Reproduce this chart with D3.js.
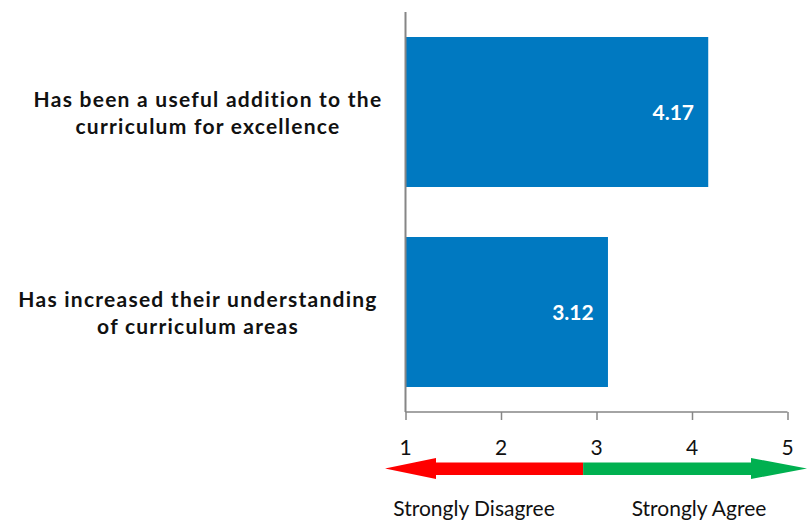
<!DOCTYPE html>
<html><head><meta charset="utf-8">
<script src="https://cdn.jsdelivr.net/npm/d3@7"></script>
<style>body{margin:0;background:#fff}svg{display:block}</style>
</head><body><svg id="c" width="807" height="521"></svg>
<script>
const categories = [
  ["Has been a useful addition to the", "curriculum for excellence"],
  ["Has increased their understanding", "of curriculum areas"]
];
const values = [4.17, 3.12];
const ticks = [1, 2, 3, 4, 5];
const scaleLabels = ["Strongly Disagree", "Strongly Agree"];

const svg = d3.select("#c");
const font = "Lato, 'Open Sans', sans-serif";
const x = d3.scaleLinear().domain([1, 5]).range([405.5, 787.5]);
const y = d3.scaleBand().domain(d3.range(categories.length)).range([12, 412]).paddingInner(0.25).paddingOuter(0.125);

// bars
svg.selectAll("rect.bar").data(values).join("rect")
  .attr("x", x(1)).attr("y", (d,i)=>y(i))
  .attr("width", d=>x(d)-x(1)).attr("height", y.bandwidth())
  .attr("fill", "#0079C1");

// value labels
svg.selectAll("text.val").data(values).join("text")
  .attr("x", d=>x(d)-35).attr("y", (d,i)=>y(i)+y.bandwidth()/2+7.5)
  .attr("text-anchor","middle")
  .attr("fill","#fff").attr("font-family",font).attr("font-weight","bold").attr("font-size",21)
  .text(d=>d.toFixed(2));

// category labels
const centers = [208, 198];
categories.forEach((lines,i)=>{
  const cy = y(i)+y.bandwidth()/2;
  const t = svg.append("text").attr("text-anchor","middle").attr("font-family",font)
    .attr("font-weight","bold").attr("font-size",21).attr("fill","#111")
    .attr("letter-spacing",1.25);
  lines.forEach((l,j)=>t.append("tspan").attr("x",centers[i]).attr("y",cy-5+j*26.5).text(l));
});

// axes
const axisColor = "#868686";
svg.append("line").attr("x1",x(1)).attr("x2",x(1)).attr("y1",12).attr("y2",412).attr("stroke",axisColor).attr("stroke-width",2);
const ax = svg.append("g").attr("transform","translate(0,412)")
  .call(d3.axisBottom(x).tickValues(ticks).tickSize(8).tickFormat(""));
ax.select(".domain").attr("stroke",axisColor).attr("stroke-width",1.5).attr("d",`M${x(1)},0H${x(5)}`);
ax.selectAll(".tick line").attr("stroke",axisColor).attr("stroke-width",1.5);

svg.selectAll("text.tick").data(ticks).join("text")
  .attr("x",d=>x(d)).attr("y",455).attr("text-anchor","middle")
  .attr("font-family",font).attr("font-size",21).attr("fill","#111").text(d=>d);

// arrow
const ay = 468.5;
const mid = x(2.86);
svg.append("path").attr("fill","#FF0000")
  .attr("d",`M385,${ay} L436,${ay-10.5} L436,${ay-6} L${mid},${ay-6} L${mid},${ay+6.5} L436,${ay+6.5} L436,${ay+10.5} Z`);
svg.append("path").attr("fill","#00B050")
  .attr("d",`M${mid},${ay-6} L751,${ay-6} L751,${ay-10.5} L807,${ay} L751,${ay+10.5} L751,${ay+6.5} L${mid},${ay+6.5} Z`);

svg.append("text").attr("x",474).attr("y",516).attr("text-anchor","middle")
  .attr("font-family",font).attr("font-size",21).attr("fill","#111").text(scaleLabels[0]);
svg.append("text").attr("x",699).attr("y",516).attr("text-anchor","middle")
  .attr("font-family",font).attr("font-size",21).attr("fill","#111").text(scaleLabels[1]);
</script></body></html>
